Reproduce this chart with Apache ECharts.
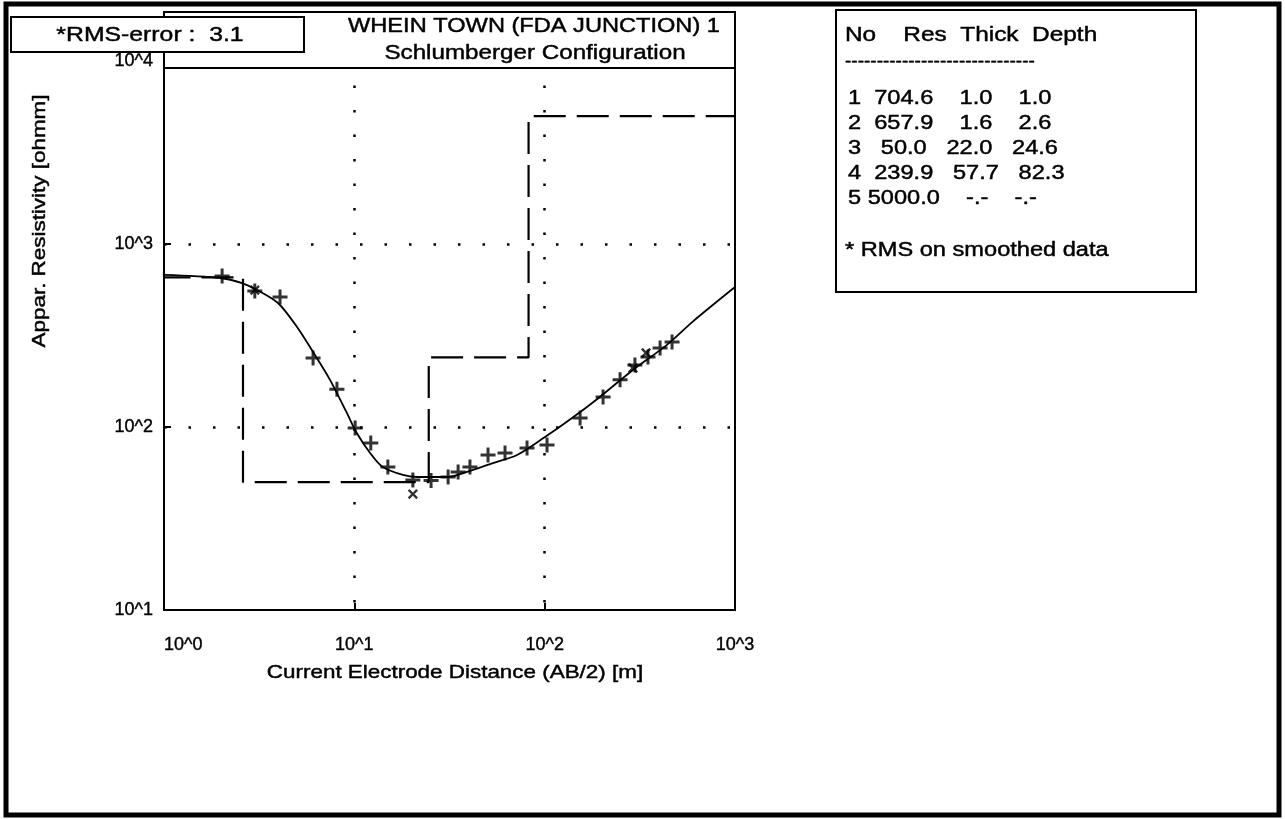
<!DOCTYPE html>
<html><head><meta charset="utf-8">
<script src="https://cdn.jsdelivr.net/npm/echarts@6/dist/echarts.min.js"></script>
<style>html,body{margin:0;padding:0;background:#fff}#c{width:1285px;height:819px}</style>
</head><body><div id="c"></div>
<script>
// ---- data ----
const curveX = [1, 1.97, 2.57, 3.08, 3.97, 5.0, 6.07, 7.45, 9.15, 10.3, 12.1, 14.1, 18.0, 21.3, 27.2, 31.1, 39.1, 53.5, 71.6, 100.4, 141, 195, 291, 439, 602, 1000];
const curveY = [678, 652, 612, 561, 476, 352, 257, 181, 119, 92.7, 72.1, 60.4, 54.7, 53.3, 53.3, 53.3, 56.8, 63.5, 70.3, 88.1, 113, 146, 205, 281, 378, 582];
const obsX = [2.02, 3.0, 4.07, 6.07, 8.1, 10.1, 12.2, 15.0, 20.3, 25.3, 31.1, 35.1, 40.5, 50.4, 61.9, 80.8, 102.9, 153.5, 202.7, 249, 298, 349, 404, 467];
const obsY = [668, 553, 513, 238, 161, 98.8, 81.8, 60.4, 51.3, 51, 53.3, 56.8, 60.4, 70.3, 72.1, 76.8, 79.7, 112, 146, 181, 218, 241, 270, 291];
const rejX = [3.0, 20.3, 291, 341];
const rejY = [560, 43, 210, 254];
const layerNo = [1, 2, 3, 4, 5];
const layerRes = [704.6, 657.9, 50.0, 239.9, 5000.0];
const layerThick = [1.0, 1.6, 22.0, 57.7];
const layerDepth = [1.0, 2.6, 24.6, 82.3];
const xTickLabels = ['10^0', '10^1', '10^2', '10^3'];
const yTickLabels = ['10^1', '10^2', '10^3', '10^4'];
const titleLines = ['WHEIN TOWN (FDA JUNCTION) 1', 'Schlumberger Configuration'];
const rmsText = '*RMS-error :  3.1';
const xName = 'Current Electrode Distance (AB/2) [m]';
const yName = 'Appar. Resistivity [ohmm]';
const tableHeader = 'No    Res  Thick  Depth';
const tableNote = '* RMS on smoothed data';

// ---- build ----
const XMIN = 1, XMAX = 1000;
const curve = curveX.map((x, i) => [x, curveY[i]]);
const obs = obsX.map((x, i) => [x, obsY[i]]);
const rej = rejX.map((x, i) => [x, rejY[i]]);
const step = [[XMIN, layerRes[0]]];
for (let i = 0; i < layerDepth.length; i++) {
  step.push([layerDepth[i], layerRes[i]]);
  step.push([layerDepth[i], layerRes[i + 1]]);
}
step.push([XMAX, layerRes[layerRes.length - 1]]);

function fmt(v, w) { return String(v).padStart(w, ' '); }
const rows = layerNo.map((n, i) => {
  const r = layerRes[i].toFixed(1);
  const t = i < layerThick.length ? layerThick[i].toFixed(1) : '-.-';
  const d = i < layerDepth.length ? layerDepth[i].toFixed(1) : '-.-';
  return n + ' ' + fmt(r, 6) + '  ' + fmt(t, 5) + '  ' + fmt(d, 5);
});

const FONT = '"Liberation Sans", Arial, sans-serif';
const SX = 1.18;
function txt(text, x, y, size, opts) {
  opts = opts || {};
  return {
    type: 'text', x: x, y: y, z: 100, scaleX: opts.sx || SX, rotation: opts.rot || 0,
    style: {
      text: text, x: 0, y: 0, font: size + 'px ' + FONT, fill: '#000',
      stroke: '#000', lineWidth: 0.45,
      textAlign: opts.align || 'center', align: opts.align || 'center',
      textVerticalAlign: 'middle', verticalAlign: 'middle'
    }
  };
}
const plusPath = 'path://M4,0h2v4h4v2h-4v4h-2v-4h-4v-2h4z';

const graphics = [
  { type: 'rect', z: 90, shape: { x: 6, y: 4, width: 1273, height: 811 }, style: { fill: null, stroke: '#000', lineWidth: 5 } },
  { type: 'rect', z: 80, shape: { x: 165, y: 13, width: 569, height: 54 }, style: { fill: '#fff', stroke: null } },
  { type: 'rect', z: 90, shape: { x: 164, y: 12, width: 571, height: 598 }, style: { fill: null, stroke: '#000', lineWidth: 2 } },
  { type: 'line', z: 90, shape: { x1: 164, y1: 68, x2: 735, y2: 68 }, style: { stroke: '#000', lineWidth: 2 } },
  { type: 'rect', z: 95, shape: { x: 11, y: 17, width: 293, height: 35 }, style: { fill: '#fff', stroke: '#000', lineWidth: 2 } },
  txt(rmsText, 150, 35, 21),
  txt(titleLines[0], 534, 26, 20),
  txt(titleLines[1], 535, 53, 20.5),
  txt(xName, 455, 673, 19),
  txt(yName, 40, 221, 19, { rot: Math.PI / 2 }),
  { type: 'rect', z: 90, shape: { x: 836, y: 10, width: 360, height: 282 }, style: { fill: '#fff', stroke: '#000', lineWidth: 2 } },
  txt(tableHeader, 845, 35, 20, { align: 'left', sx: 1.22 }),
  txt('-'.repeat(30), 845, 62, 19, { align: 'left', sx: 1.0 }),
  txt(tableNote, 845, 250, 20, { align: 'left' })
];
rows.forEach((r, i) => graphics.push(txt(r, 848, 98 + i * 25, 20, { align: 'left' })));

const axisLabelBase = { color: '#000', fontSize: 18, fontFamily: 'Liberation Sans', textBorderColor: '#000', textBorderWidth: 0.4 };

const chart = echarts.init(document.getElementById('c'), null, { renderer: 'canvas' });
chart.setOption({
  backgroundColor: '#fff',
  animation: false,
  grid: { left: 164, right: 550, top: 61, bottom: 209, containLabel: false },
  xAxis: {
    type: 'log', logBase: 10, min: XMIN, max: XMAX,
    axisLine: { show: true, lineStyle: { color: '#000', width: 2 } },
    axisTick: { show: true, inside: true, length: 7, lineStyle: { color: '#000', width: 2 } },
    axisLabel: Object.assign({}, axisLabelBase, {
      margin: 26,
      formatter: v => xTickLabels[Math.round(Math.log10(v))], alignMinLabel: 'left'
    }),
    splitLine: { show: true, showMinLine: false, showMaxLine: false, lineStyle: { color: '#000', width: 2.5, type: [2.5, 22] } }
  },
  yAxis: {
    type: 'log', logBase: 10, min: 10, max: 10000,
    axisLine: { show: true, lineStyle: { color: '#000', width: 2 } },
    axisTick: { show: true, inside: true, length: 7, lineStyle: { color: '#000', width: 2 } },
    axisLabel: Object.assign({}, axisLabelBase, {
      margin: 11,
      formatter: v => yTickLabels[Math.round(Math.log10(v)) - 1]
    }),
    splitLine: { show: true, showMinLine: false, showMaxLine: false, lineStyle: { color: '#000', width: 2.5, type: [2.5, 22] } }
  },
  series: [
    { type: 'line', data: step, symbol: 'none', z: 3, lineStyle: { color: '#000', width: 2.2, type: [32, 11] } },
    { type: 'line', data: curve, smooth: 0.3, symbol: 'none', z: 4, lineStyle: { color: '#000', width: 1.8 } },
    { type: 'scatter', data: obs, symbol: plusPath, symbolSize: 15, z: 5, itemStyle: { color: '#000' } },
    { type: 'scatter', data: rej, symbol: plusPath, symbolSize: 12, symbolRotate: 45, z: 5, itemStyle: { color: '#000' } }
  ],
  graphic: graphics
});
</script></body></html>
